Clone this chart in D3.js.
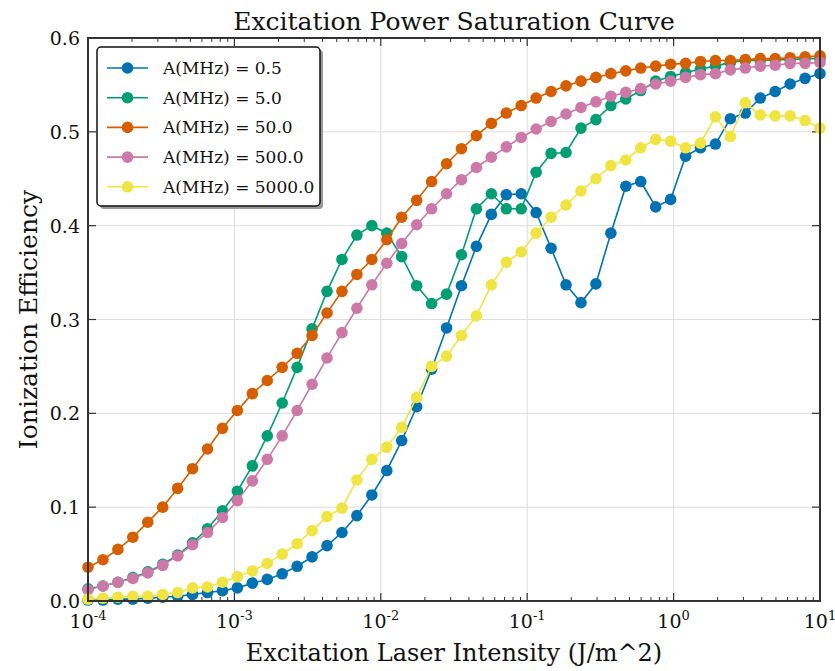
<!DOCTYPE html>
<html lang="en">
<head>
  <meta charset="UTF-8">
  <title>Excitation Power Saturation Curve</title>
  <script src="https://d3js.org/d3.v7.min.js"></script>
  <style>
    body {
      margin: 0;
      background-color: #ffffff;
    }
    svg {
      font-family: "DejaVu Serif", "Liberation Serif", serif;
    }
    .grid line {
      stroke: #dddddd;
      stroke-width: 1;
    }
    .tick-label {
      font-size: 19px;
      fill: #111;
    }
  </style>
</head>
<body>
  <svg id="chart"></svg>
  <script>
    // excitation laser intensity (J/m^2), 50 log-spaced points
    const intensity = [
      1.000e-4, 1.265e-4, 1.600e-4, 2.024e-4, 2.560e-4, 3.237e-4, 4.095e-4, 5.179e-4, 6.551e-4, 8.286e-4,
      1.048e-3, 1.326e-3, 1.677e-3, 2.121e-3, 2.683e-3, 3.393e-3, 4.292e-3, 5.429e-3, 6.866e-3, 8.685e-3,
      1.099e-2, 1.389e-2, 1.758e-2, 2.223e-2, 2.812e-2, 3.556e-2, 4.498e-2, 5.690e-2, 7.197e-2, 9.103e-2,
      1.151e-1, 1.456e-1, 1.842e-1, 2.330e-1, 2.947e-1, 3.728e-1, 4.715e-1, 5.964e-1, 7.543e-1, 9.541e-1,
      1.207, 1.526, 1.931, 2.442, 3.089, 3.907, 4.942, 6.251, 7.906, 10.0
    ];

    const seriesNames = ["A(MHz) = 0.5", "A(MHz) = 5.0", "A(MHz) = 50.0", "A(MHz) = 500.0", "A(MHz) = 5000.0"];
    const seriesColors = ["#0072B2", "#009E73", "#D55E00", "#CC79A7", "#F0E442"];

    const eff05 = [
      0.001, 0.001, 0.002, 0.002, 0.003, 0.004, 0.005, 0.007, 0.009, 0.011,
      0.014, 0.019, 0.023, 0.029, 0.037, 0.047, 0.059, 0.073, 0.091, 0.113,
      0.139, 0.171, 0.207, 0.247, 0.291, 0.336, 0.378, 0.412, 0.433, 0.434,
      0.414, 0.376, 0.337, 0.318, 0.338, 0.392, 0.442, 0.447, 0.420, 0.428,
      0.474, 0.483, 0.487, 0.514, 0.520, 0.536, 0.543, 0.551, 0.557, 0.562
    ];
    const eff5 = [
      0.013, 0.016, 0.020, 0.025, 0.031, 0.039, 0.049, 0.062, 0.077, 0.096,
      0.117, 0.144, 0.176, 0.211, 0.249, 0.290, 0.330, 0.364, 0.390, 0.400,
      0.392, 0.367, 0.336, 0.317, 0.327, 0.369, 0.418, 0.434, 0.418, 0.418,
      0.457, 0.477, 0.478, 0.504, 0.513, 0.528, 0.535, 0.544, 0.554, 0.559,
      0.563, 0.567, 0.570, 0.574, 0.576, 0.576, 0.577, 0.577, 0.578, 0.578
    ];
    const eff50 = [
      0.036, 0.044, 0.055, 0.068, 0.084, 0.100, 0.120, 0.141, 0.162, 0.184,
      0.203, 0.221, 0.235, 0.249, 0.264, 0.283, 0.307, 0.330, 0.348, 0.364,
      0.385, 0.409, 0.427, 0.447, 0.466, 0.482, 0.496, 0.509, 0.520, 0.528,
      0.536, 0.543, 0.549, 0.554, 0.558, 0.562, 0.565, 0.568, 0.570, 0.572,
      0.573, 0.575, 0.576, 0.576, 0.577, 0.578, 0.578, 0.579, 0.580, 0.581
    ];
    const eff500 = [
      0.012, 0.016, 0.020, 0.024, 0.030, 0.038, 0.048, 0.060, 0.073, 0.089,
      0.107, 0.128, 0.151, 0.176, 0.203, 0.231, 0.259, 0.286, 0.312, 0.337,
      0.360, 0.381, 0.401, 0.418, 0.434, 0.449, 0.462, 0.473, 0.484, 0.494,
      0.503, 0.511, 0.519, 0.526, 0.532, 0.538, 0.542, 0.546, 0.551, 0.554,
      0.558, 0.561, 0.562, 0.566, 0.568, 0.570, 0.571, 0.573, 0.573, 0.574
    ];
    const eff5000 = [
      0.002, 0.003, 0.004, 0.005, 0.005, 0.007, 0.009, 0.014, 0.015, 0.020,
      0.026, 0.032, 0.040, 0.050, 0.061, 0.075, 0.090, 0.099, 0.129, 0.151,
      0.164, 0.185, 0.217, 0.250, 0.261, 0.283, 0.304, 0.337, 0.361, 0.372,
      0.392, 0.409, 0.422, 0.437, 0.450, 0.464, 0.470, 0.483, 0.492, 0.490,
      0.483, 0.488, 0.516, 0.495, 0.531, 0.518, 0.517, 0.517, 0.512, 0.504
    ];
    const allSeries = [eff05, eff5, eff50, eff500, eff5000];

    const xTicks = [1e-4, 1e-3, 1e-2, 1e-1, 1e0, 1e1];
    const xTickExp = ["-4", "-3", "-2", "-1", "0", "1"];
    const yTicks = [0, 0.1, 0.2, 0.3, 0.4, 0.5, 0.6];

    const svgWidth = 835;
    const svgHeight = 671;
    const margin = { top: 38, right: 15, bottom: 70, left: 88 };
    const width = svgWidth - margin.left - margin.right;
    const height = svgHeight - margin.top - margin.bottom;

    const root = d3.select("#chart")
      .attr("width", svgWidth)
      .attr("height", svgHeight);

    const svg = root.append("g")
      .attr("transform", `translate(${margin.left}, ${margin.top})`);

    const x = d3.scaleLog().domain([1e-4, 1e1]).range([0, width]);
    const y = d3.scaleLinear().domain([0, 0.6]).range([height, 0]);

    // grid
    const grid = svg.append("g").attr("class", "grid");
    grid.selectAll(".gx").data(xTicks).enter().append("line")
      .attr("x1", d => x(d)).attr("x2", d => x(d))
      .attr("y1", 0).attr("y2", height);
    grid.selectAll(".gy").data(yTicks).enter().append("line")
      .attr("x1", 0).attr("x2", width)
      .attr("y1", d => y(d)).attr("y2", d => y(d));

    // minor x ticks (2..9 per decade)
    const minorX = [];
    for (let e = -4; e < 1; e++) {
      for (let m = 2; m <= 9; m++) minorX.push(m * Math.pow(10, e));
    }

    const tickColor = "#333";
    const ticks = svg.append("g");
    ticks.selectAll(".mxb").data(minorX).enter().append("line")
      .attr("x1", d => x(d)).attr("x2", d => x(d))
      .attr("y1", height).attr("y2", height - 4)
      .attr("stroke", tickColor).attr("stroke-width", 1);
    ticks.selectAll(".mxt").data(minorX).enter().append("line")
      .attr("x1", d => x(d)).attr("x2", d => x(d))
      .attr("y1", 0).attr("y2", 4)
      .attr("stroke", tickColor).attr("stroke-width", 1);
    ticks.selectAll(".Mxb").data(xTicks).enter().append("line")
      .attr("x1", d => x(d)).attr("x2", d => x(d))
      .attr("y1", height).attr("y2", height - 8)
      .attr("stroke", tickColor).attr("stroke-width", 1.2);
    ticks.selectAll(".Mxt").data(xTicks).enter().append("line")
      .attr("x1", d => x(d)).attr("x2", d => x(d))
      .attr("y1", 0).attr("y2", 8)
      .attr("stroke", tickColor).attr("stroke-width", 1.2);
    ticks.selectAll(".Myl").data(yTicks).enter().append("line")
      .attr("x1", 0).attr("x2", 8)
      .attr("y1", d => y(d)).attr("y2", d => y(d))
      .attr("stroke", tickColor).attr("stroke-width", 1.2);
    ticks.selectAll(".Myr").data(yTicks).enter().append("line")
      .attr("x1", width).attr("x2", width - 8)
      .attr("y1", d => y(d)).attr("y2", d => y(d))
      .attr("stroke", tickColor).attr("stroke-width", 1.2);

    // tick labels
    svg.selectAll(".ylab").data(yTicks).enter().append("text")
      .attr("class", "tick-label")
      .attr("x", -8)
      .attr("y", d => y(d) + 7)
      .attr("text-anchor", "end")
      .text(d => d.toFixed(1));

    const xl = svg.selectAll(".xlab").data(xTicks).enter().append("text")
      .attr("class", "tick-label")
      .attr("x", d => x(d))
      .attr("y", height + 27)
      .attr("text-anchor", "middle");
    xl.append("tspan").text("10");
    xl.append("tspan")
      .attr("dy", -8)
      .attr("font-size", "13px")
      .text((d, i) => xTickExp[i]);

    // series
    const line = d3.line()
      .x((d, i) => x(intensity[i]))
      .y(d => y(d));

    const plot = svg.append("g");
    allSeries.forEach((vals, k) => {
      plot.append("path")
        .datum(vals)
        .attr("fill", "none")
        .attr("stroke", seriesColors[k])
        .attr("stroke-width", 1.6)
        .attr("d", line);
      plot.selectAll(".dot" + k).data(vals).enter().append("circle")
        .attr("cx", (d, i) => x(intensity[i]))
        .attr("cy", d => y(d))
        .attr("r", 5.8)
        .attr("fill", seriesColors[k]);
    });

    // frame
    svg.append("rect")
      .attr("width", width).attr("height", height)
      .attr("fill", "none")
      .attr("stroke", "#333")
      .attr("stroke-width", 2);

    // legend
    const legend = svg.append("g").attr("transform", "translate(9, 9)");
    legend.append("rect")
      .attr("x", 3).attr("y", 3)
      .attr("width", 223).attr("height", 159)
      .attr("rx", 4)
      .attr("fill", "#999");
    legend.append("rect")
      .attr("width", 223).attr("height", 159)
      .attr("rx", 4)
      .attr("fill", "#fff")
      .attr("stroke", "#111")
      .attr("stroke-width", 1.5);
    seriesNames.forEach((name, k) => {
      const ly = 21 + k * 29.7;
      legend.append("line")
        .attr("x1", 10).attr("x2", 51)
        .attr("y1", ly).attr("y2", ly)
        .attr("stroke", seriesColors[k])
        .attr("stroke-width", 1.6);
      legend.append("circle")
        .attr("cx", 30.5).attr("cy", ly)
        .attr("r", 5.8)
        .attr("fill", seriesColors[k]);
      legend.append("text")
        .attr("x", 66).attr("y", ly + 6)
        .attr("font-size", "17px")
        .attr("fill", "#111")
        .text(name);
    });

    // titles
    root.append("text")
      .attr("x", margin.left + width / 2)
      .attr("y", 30)
      .attr("text-anchor", "middle")
      .attr("font-size", "25px")
      .attr("fill", "#111")
      .text("Excitation Power Saturation Curve");

    root.append("text")
      .attr("x", margin.left + width / 2)
      .attr("y", 661)
      .attr("text-anchor", "middle")
      .attr("font-size", "24px")
      .attr("fill", "#111")
      .text("Excitation Laser Intensity (J/m^2)");

    root.append("text")
      .attr("transform", `translate(37, ${margin.top + height / 2}) rotate(-90)`)
      .attr("text-anchor", "middle")
      .attr("font-size", "25px")
      .attr("fill", "#111")
      .text("Ionization Efficiency");
  </script>
</body>
</html>
